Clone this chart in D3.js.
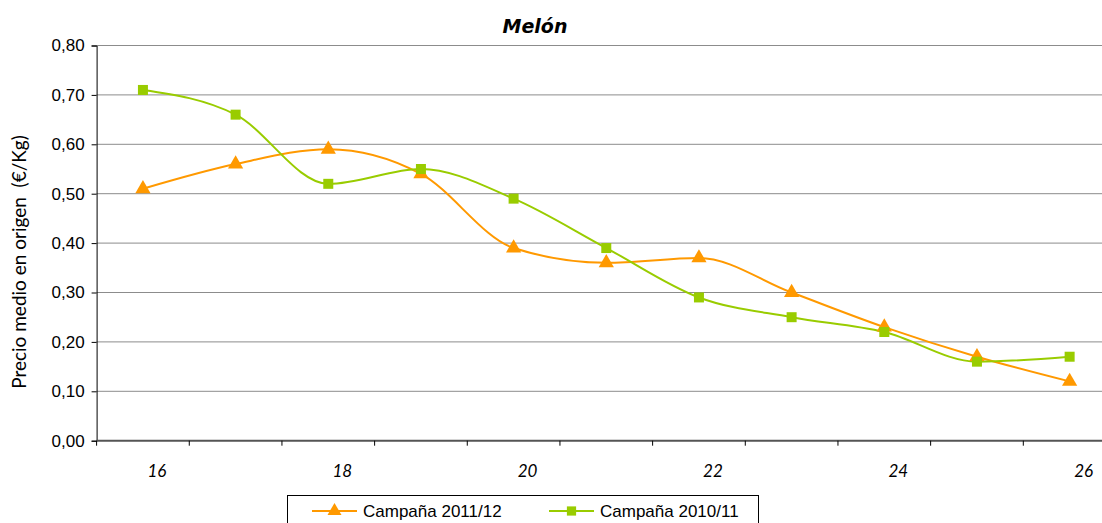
<!DOCTYPE html>
<html>
<head>
<meta charset="utf-8">
<script src="https://cdn.jsdelivr.net/npm/d3@7"></script>
<style>
  html, body { margin: 0; padding: 0; background: #fff; }
  svg { display: block; }
</style>
</head>
<body>
<svg id="chart" width="1102" height="523"></svg>
<script>
// Semanas de campaña y precios medios en origen (€/kg)
const weeks = [16, 17, 18, 19, 20, 21, 22, 23, 24, 25, 26];
const campaign2011 = [0.51, 0.56, 0.59, 0.54, 0.39, 0.36, 0.37, 0.30, 0.23, 0.17, 0.12];
const campaign2010 = [0.71, 0.66, 0.52, 0.55, 0.49, 0.39, 0.29, 0.25, 0.22, 0.16, 0.17];
const weekLabels = [16, 18, 20, 22, 24, 26];
const yTicks = [0, 0.1, 0.2, 0.3, 0.4, 0.5, 0.6, 0.7, 0.8];
const seriesNames = ["Campaña 2011/12", "Campaña 2010/11"];

const svg = d3.select("#chart");
const plotLeft = 96.6, bandW = 92.67;
const plotTop = 45.5, plotBottom = 440.7;

const x = d3.scaleBand().domain(weeks).range([plotLeft, plotLeft + bandW * weeks.length]);
const y = d3.scaleLinear().domain([0, 0.8]).range([plotBottom, plotTop]);

const fmt = v => d3.format(".2f")(v).replace(".", ",");

// Título
svg.append("text")
  .attr("x", 535).attr("y", 33)
  .attr("text-anchor", "middle")
  .attr("font-family", "DejaVu Sans")
  .attr("font-weight", "bold")
  .attr("font-style", "italic")
  .attr("font-size", 19)
  .attr("fill", "#000")
  .text("Melón");

// Líneas de cuadrícula horizontales
svg.append("g")
  .selectAll("line")
  .data(yTicks.filter(d => d > 0))
  .join("line")
  .attr("x1", plotLeft).attr("x2", 1120)
  .attr("y1", d => y(d)).attr("y2", d => y(d))
  .attr("stroke", "#8c8c8c")
  .attr("stroke-width", 1);

// Eje Y
const yAxis = svg.append("g")
  .attr("transform", `translate(${plotLeft},0)`)
  .call(d3.axisLeft(y).tickValues(yTicks).tickFormat(fmt).tickSize(5).tickPadding(7));
yAxis.select(".domain").attr("stroke", "#000");
yAxis.selectAll(".tick line").attr("stroke", "#000");
yAxis.selectAll("text")
  .attr("font-family", "Liberation Sans, Arial, sans-serif")
  .attr("font-size", 17)
  .attr("fill", "#000");

// Eje X: marcas en los límites entre semanas
const xAxis = svg.append("g").attr("transform", `translate(0,${plotBottom})`);
xAxis.append("line")
  .attr("x1", plotLeft).attr("x2", 1120)
  .attr("stroke", "#555").attr("stroke-width", 2);
xAxis.selectAll("line.tk")
  .data(weeks)
  .join("line")
  .attr("class", "tk")
  .attr("x1", d => x(d)).attr("x2", d => x(d))
  .attr("y1", 0).attr("y2", 5)
  .attr("stroke", "#000");
xAxis.selectAll("text")
  .data(weekLabels)
  .join("text")
  .attr("x", d => x(d) + x.bandwidth() / 2 + 14)
  .attr("y", 36)
  .attr("text-anchor", "middle")
  .attr("font-family", "Lato, sans-serif")
  .attr("font-style", "italic")
  .attr("font-size", 17)
  .attr("fill", "#000")
  .text(d => d);

// Título del eje Y
svg.append("text")
  .attr("transform", "translate(26,262) rotate(-90)")
  .attr("text-anchor", "middle")
  .attr("font-family", "Lato, sans-serif")
  .attr("font-size", 19)
  .attr("fill", "#000")
  .attr("xml:space", "preserve")
  .text("Precio medio en origen  (€/Kg)");

// Series suavizadas
const cx = d => x(d) + x.bandwidth() / 2;
const line = d3.line()
  .x((d, i) => cx(weeks[i]))
  .y(d => y(d))
  .curve(d3.curveMonotoneX);

const series = [
  { name: seriesNames[0], values: campaign2011, color: "#FF9900", marker: d3.symbolTriangle, size: 100 },
  { name: seriesNames[1], values: campaign2010, color: "#99CC00", marker: d3.symbolSquare, size: 100 }
];

series.forEach(s => {
  svg.append("path")
    .datum(s.values)
    .attr("fill", "none")
    .attr("stroke", s.color)
    .attr("stroke-width", 2)
    .attr("d", line);
});
series.forEach(s => {
  svg.append("g")
    .selectAll("path")
    .data(s.values)
    .join("path")
    .attr("transform", (d, i) => `translate(${cx(weeks[i])},${y(d)})`)
    .attr("d", d3.symbol().type(s.marker).size(s.size))
    .attr("fill", s.color);
});

// Leyenda
const lg = svg.append("g");
lg.append("rect")
  .attr("x", 287.5).attr("y", 495.5)
  .attr("width", 471).attr("height", 40)
  .attr("fill", "#fff").attr("stroke", "#000").attr("stroke-width", 1);
const legendItems = [
  { s: series[0], x0: 312, tx: 363 },
  { s: series[1], x0: 549, tx: 600 }
];
legendItems.forEach(it => {
  lg.append("line")
    .attr("x1", it.x0).attr("x2", it.x0 + 45)
    .attr("y1", 511).attr("y2", 511)
    .attr("stroke", it.s.color).attr("stroke-width", 2);
  lg.append("path")
    .attr("transform", `translate(${it.x0 + 22.5},511)`)
    .attr("d", d3.symbol().type(it.s.marker).size(it.s.size * 0.85))
    .attr("fill", it.s.color);
  lg.append("text")
    .attr("x", it.tx).attr("y", 517)
    .attr("font-family", "Liberation Sans, Arial, sans-serif")
    .attr("font-size", 17)
    .attr("fill", "#000")
    .text(it.s.name);
});
</script>
</body>
</html>
